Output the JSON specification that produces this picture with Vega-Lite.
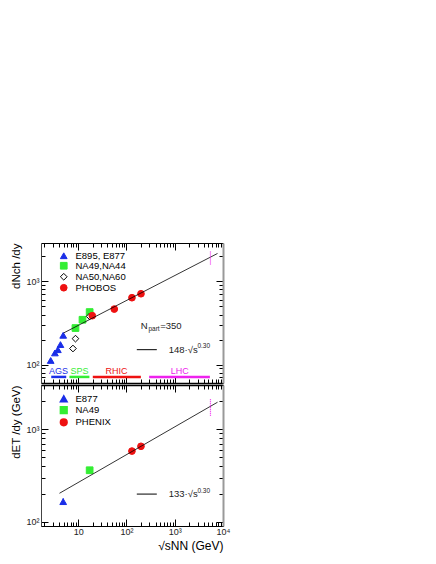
{
  "$schema": "https://vega.github.io/schema/vega-lite/v6.json",
  "padding": {"left": 10, "top": 242, "right": 5, "bottom": 5},
  "spacing": 0,
  "config": {
    "font": "Liberation Sans",
    "view": {"stroke": null},
    "axis": {"grid": false, "domainColor": "black", "tickColor": "black", "labelFont": "Liberation Sans", "labelFontSize": 9, "labelColor": "#222", "titleFont": "Liberation Sans", "titleFontSize": 12, "titleFontWeight": "normal", "titleColor": "black"},
    "legend": {"labelFont": "Liberation Sans", "labelFontSize": 9.5, "labelColor": "black"}
  },
  "datasets": {
    "top": [
      {"series": "E895, E877", "sqrts": 2.7, "val": 112},
      {"series": "E895, E877", "sqrts": 3.3, "val": 138},
      {"series": "E895, E877", "sqrts": 3.8, "val": 151},
      {"series": "E895, E877", "sqrts": 4.3, "val": 174},
      {"series": "E895, E877", "sqrts": 4.9, "val": 225},
      {"series": "NA49,NA44", "sqrts": 8.8, "val": 275},
      {"series": "NA49,NA44", "sqrts": 12.3, "val": 346},
      {"series": "NA49,NA44", "sqrts": 17.3, "val": 428},
      {"series": "NA50,NA60", "sqrts": 7.8, "val": 156},
      {"series": "NA50,NA60", "sqrts": 8.8, "val": 205},
      {"series": "NA50,NA60", "sqrts": 17.3, "val": 380},
      {"series": "PHOBOS", "sqrts": 19.6, "val": 387},
      {"series": "PHOBOS", "sqrts": 56, "val": 465},
      {"series": "PHOBOS", "sqrts": 130, "val": 637},
      {"series": "PHOBOS", "sqrts": 200, "val": 711}
    ],
    "bottom": [
      {"series": "E877", "sqrts": 4.9, "val": 165, "lo": 152, "hi": 180},
      {"series": "NA49", "sqrts": 17.3, "val": 360, "lo": 335, "hi": 385},
      {"series": "PHENIX", "sqrts": 130, "val": 580, "lo": 560, "hi": 600},
      {"series": "PHENIX", "sqrts": 200, "val": 653, "lo": 630, "hi": 676}
    ],
    "fitTop": [{"x": 5, "y": 240}, {"x": 7700, "y": 2170}],
    "fitBot": [{"x": 4.1, "y": 203}, {"x": 7700, "y": 1955}],
    "lhcTop": [{"x": 5500, "lo": 1600, "hi": 2300}],
    "lhcBot": [{"x": 5500, "lo": 1400, "hi": 2120}],
    "bands": [
      {"band": "AGS", "x1": 2.77, "x2": 5.66, "tx": 3.93, "y": 71, "ty": 83},
      {"band": "SPS", "x1": 6.6, "x2": 17.1, "tx": 10.6, "y": 71, "ty": 83},
      {"band": "RHIC", "x1": 20.1, "x2": 199, "tx": 62.6, "y": 71, "ty": 83},
      {"band": "LHC", "x1": 295, "x2": 5350, "tx": 1270, "y": 71, "ty": 83}
    ],
    "annTop": [
      {"t": "N", "x": 199, "y": 294},
      {"t": "=350", "x": 500, "y": 294},
      {"t": "148·√s", "x": 751, "y": 151}
    ],
    "annTopSmall": [
      {"t": "part", "x": 285, "y": 265},
      {"t": "0.30", "x": 2950, "y": 166}
    ],
    "segTop": [{"x": 164, "x2": 426, "y": 151}],
    "annBot": [{"t": "133·√s", "x": 751, "y": 199}],
    "annBotSmall": [{"t": "0.30", "x": 2950, "y": 213}],
    "segBot": [{"x": 164, "x2": 426, "y": 199}],
    "axisTop": [{"x": 2, "y": 100}],
    "axisBot": [{"x": 2, "y": 100}]
  },
  "resolve": {
    "scale": {"y": "independent", "fill": "independent", "stroke": "independent", "shape": "independent", "color": "independent"},
    "legend": {"fill": "independent", "stroke": "independent", "shape": "independent"}
  },
  "vconcat": [
    {
      "width": 182,
      "height": 140,
      "resolve": {"axis": {"x": "independent", "y": "independent"}},
      "layer": [
        {
          "data": {"name": "top"},
          "mark": {"type": "point", "filled": true, "size": 45, "strokeWidth": 1, "opacity": 1},
          "encoding": {
            "x": {"field": "sqrts", "type": "quantitative", "scale": {"type": "log", "domain": [1.7, 10000], "nice": false},
              "axis": {"orient": "bottom", "title": null, "labels": false, "values": [2,3,4,5,6,7,8,9,10,20,30,40,50,60,70,80,90,100,200,300,400,500,600,700,800,900,1000,2000,3000,4000,5000,6000,7000,8000,9000],
                "tickSize": {"condition": {"test": "indexof([10,100,1000,10000], datum.value) >= 0", "value": -7}, "value": -4}, "domainWidth": 1.5}},
            "y": {"field": "val", "type": "quantitative", "scale": {"type": "log", "domain": [60, 2900], "nice": false},
              "axis": {"orient": "left", "title": "dNch /dy", "titleAnchor": "end", "titlePadding": 4, "titleFontSize": 11.5, "values": [60,70,80,90,100,200,300,400,500,600,700,800,900,1000,2000],
                "labelExpr": "datum.value == 100 ? '10²' : datum.value == 1000 ? '10³' : ''", "labelPadding": 9,
                "tickSize": {"condition": {"test": "indexof([100,1000], datum.value) >= 0", "value": -7}, "value": -4}, "domainColor": "#444"}},
            "shape": {"field": "series", "type": "nominal", "scale": {"domain": ["E895, E877", "NA49,NA44", "NA50,NA60", "PHOBOS"], "range": ["triangle-up", "square", "diamond", "circle"]},
              "legend": {"title": null, "orient": "none", "legendX": 18, "legendY": 8, "symbolSize": 45, "rowPadding": -2.8, "labelOffset": 7, "symbolStrokeWidth": 1}},
            "fill": {"field": "series", "type": "nominal", "scale": {"domain": ["E895, E877", "NA49,NA44", "NA50,NA60", "PHOBOS"], "range": ["#1a2ee8", "#33ee33", "white", "#ee1111"]},
              "legend": {"title": null, "orient": "none", "legendX": 18, "legendY": 8, "symbolSize": 45, "rowPadding": -2.8, "labelOffset": 7, "symbolStrokeWidth": 1}},
            "stroke": {"field": "series", "type": "nominal", "scale": {"domain": ["E895, E877", "NA49,NA44", "NA50,NA60", "PHOBOS"], "range": ["#1a2ee8", "#33ee33", "black", "#ee1111"]},
              "legend": {"title": null, "orient": "none", "legendX": 18, "legendY": 8, "symbolSize": 45, "rowPadding": -2.8, "labelOffset": 7, "symbolStrokeWidth": 1}}
          }
        },
        {
          "data": {"name": "axisTop"},
          "mark": {"type": "point", "opacity": 0},
          "encoding": {
            "x": {"field": "x", "type": "quantitative", "axis": {"orient": "top", "title": null, "labels": false, "values": [2,3,4,5,6,7,8,9,10,20,30,40,50,60,70,80,90,100,200,300,400,500,600,700,800,900,1000,2000,3000,4000,5000,6000,7000,8000,9000],
                "tickSize": {"condition": {"test": "indexof([10,100,1000,10000], datum.value) >= 0", "value": -7}, "value": -4}}},
            "y": {"field": "y", "type": "quantitative", "axis": {"orient": "right", "title": null, "labels": false, "values": [60,70,80,90,100,200,300,400,500,600,700,800,900,1000,2000],
                "tickSize": {"condition": {"test": "indexof([100,1000], datum.value) >= 0", "value": -7}, "value": -4}, "domainColor": "#999", "domainWidth": 2}}
          }
        },
        {
          "data": {"name": "fitTop"},
          "mark": {"type": "line", "color": "black", "strokeWidth": 0.8},
          "encoding": {"x": {"field": "x", "type": "quantitative", "axis": null}, "y": {"field": "y", "type": "quantitative", "axis": null}}
        },
        {
          "data": {"name": "lhcTop"},
          "mark": {"type": "rule", "color": "#ee22ee", "strokeDash": [1, 1], "strokeWidth": 1.2},
          "encoding": {"x": {"field": "x", "type": "quantitative", "axis": null}, "y": {"field": "lo", "type": "quantitative", "axis": null}, "y2": {"field": "hi"}}
        },
        {
          "data": {"name": "bands"},
          "mark": {"type": "rule", "strokeWidth": 2.5},
          "encoding": {"x": {"field": "x1", "type": "quantitative", "axis": null}, "x2": {"field": "x2"}, "y": {"field": "y", "type": "quantitative", "axis": null},
            "color": {"field": "band", "type": "nominal", "scale": {"domain": ["AGS", "SPS", "RHIC", "LHC"], "range": ["#1a2ee8", "#33ee33", "#ee1111", "#ee22ee"]}, "legend": null}}
        },
        {
          "data": {"name": "bands"},
          "mark": {"type": "text", "fontSize": 9, "align": "center", "baseline": "middle"},
          "encoding": {"x": {"field": "tx", "type": "quantitative", "axis": null}, "y": {"field": "ty", "type": "quantitative", "axis": null}, "text": {"field": "band"},
            "color": {"field": "band", "type": "nominal", "scale": {"domain": ["AGS", "SPS", "RHIC", "LHC"], "range": ["#1a2ee8", "#33ee33", "#ee1111", "#ee22ee"]}, "legend": null}}
        },
        {
          "data": {"name": "annTop"},
          "mark": {"type": "text", "fontSize": 9.5, "align": "left", "baseline": "middle", "color": "#222"},
          "encoding": {"x": {"field": "x", "type": "quantitative", "axis": null}, "y": {"field": "y", "type": "quantitative", "axis": null}, "text": {"field": "t"}}
        },
        {
          "data": {"name": "annTopSmall"},
          "mark": {"type": "text", "fontSize": 6.5, "align": "left", "baseline": "middle", "color": "#222"},
          "encoding": {"x": {"field": "x", "type": "quantitative", "axis": null}, "y": {"field": "y", "type": "quantitative", "axis": null}, "text": {"field": "t"}}
        },
        {
          "data": {"name": "segTop"},
          "mark": {"type": "rule", "color": "black", "strokeWidth": 1},
          "encoding": {"x": {"field": "x", "type": "quantitative", "axis": null}, "x2": {"field": "x2"}, "y": {"field": "y", "type": "quantitative", "axis": null}}
        }
      ]
    },
    {
      "width": 182,
      "height": 141,
      "resolve": {"axis": {"x": "independent", "y": "independent"}},
      "layer": [
        {
          "data": {"name": "bottom"},
          "mark": {"type": "point", "filled": true, "size": 45, "strokeWidth": 1, "opacity": 1},
          "encoding": {
            "x": {"field": "sqrts", "type": "quantitative", "scale": {"type": "log", "domain": [1.7, 10000], "nice": false},
              "axis": {"orient": "bottom", "title": "√sNN (GeV)", "titleAnchor": "end", "titleFontSize": 12, "titlePadding": 4, "values": [2,3,4,5,6,7,8,9,10,20,30,40,50,60,70,80,90,100,200,300,400,500,600,700,800,900,1000,2000,3000,4000,5000,6000,7000,8000,9000,10000],
                "labelExpr": "datum.value == 10 ? '10' : datum.value == 100 ? '10²' : datum.value == 1000 ? '10³' : datum.value == 10000 ? '10⁴' : ''", "labelPadding": 8, "labelFlush": false,
                "tickSize": {"condition": {"test": "indexof([10,100,1000,10000], datum.value) >= 0", "value": -7}, "value": -4}}},
            "y": {"field": "val", "type": "quantitative", "scale": {"type": "log", "domain": [90, 3000], "nice": false},
              "axis": {"orient": "left", "title": "dET /dy (GeV)", "titleAnchor": "end", "titlePadding": 4, "titleFontSize": 11.5, "values": [90,100,200,300,400,500,600,700,800,900,1000,2000,3000],
                "labelExpr": "datum.value == 100 ? '10²' : datum.value == 1000 ? '10³' : ''", "labelPadding": 9,
                "tickSize": {"condition": {"test": "indexof([100,1000], datum.value) >= 0", "value": -7}, "value": -4}, "domainColor": "#444"}},
            "shape": {"field": "series", "type": "nominal", "scale": {"domain": ["E877", "NA49", "PHENIX"], "range": ["triangle-up", "square", "circle"]},
              "legend": {"title": null, "orient": "none", "legendX": 18, "legendY": 9, "symbolSize": 45, "rowPadding": -1.7, "labelOffset": 7}},
            "fill": {"field": "series", "type": "nominal", "scale": {"domain": ["E877", "NA49", "PHENIX"], "range": ["#1a2ee8", "#33ee33", "#ee1111"]},
              "legend": {"title": null, "orient": "none", "legendX": 18, "legendY": 9, "symbolSize": 45, "rowPadding": -1.7, "labelOffset": 7}},
            "stroke": {"field": "series", "type": "nominal", "scale": {"domain": ["E877", "NA49", "PHENIX"], "range": ["#1a2ee8", "#33ee33", "#ee1111"]},
              "legend": {"title": null, "orient": "none", "legendX": 18, "legendY": 9, "symbolSize": 45, "rowPadding": -1.7, "labelOffset": 7}}
          }
        },
        {
          "data": {"name": "bottom"},
          "mark": {"type": "rule", "strokeWidth": 1},
          "encoding": {
            "x": {"field": "sqrts", "type": "quantitative", "axis": null},
            "y": {"field": "lo", "type": "quantitative", "axis": null},
            "y2": {"field": "hi"},
            "stroke": {"field": "series", "type": "nominal",
              "legend": {"title": null, "orient": "none", "legendX": 18, "legendY": 9, "symbolSize": 45, "rowPadding": -1.7, "labelOffset": 7}}
          }
        },
        {
          "data": {"name": "axisBot"},
          "mark": {"type": "point", "opacity": 0},
          "encoding": {
            "x": {"field": "x", "type": "quantitative", "axis": {"orient": "top", "title": null, "labels": false, "values": [2,3,4,5,6,7,8,9,10,20,30,40,50,60,70,80,90,100,200,300,400,500,600,700,800,900,1000,2000,3000,4000,5000,6000,7000,8000,9000],
                "tickSize": {"condition": {"test": "indexof([10,100,1000,10000], datum.value) >= 0", "value": -7}, "value": -4}, "domainWidth": 1.5}},
            "y": {"field": "y", "type": "quantitative", "axis": {"orient": "right", "title": null, "labels": false, "values": [90,100,200,300,400,500,600,700,800,900,1000,2000,3000],
                "tickSize": {"condition": {"test": "indexof([100,1000], datum.value) >= 0", "value": -7}, "value": -4}, "domainColor": "#999", "domainWidth": 2}}
          }
        },
        {
          "data": {"name": "fitBot"},
          "mark": {"type": "line", "color": "black", "strokeWidth": 0.8},
          "encoding": {"x": {"field": "x", "type": "quantitative", "axis": null}, "y": {"field": "y", "type": "quantitative", "axis": null}}
        },
        {
          "data": {"name": "lhcBot"},
          "mark": {"type": "rule", "color": "#ee22ee", "strokeDash": [1, 1], "strokeWidth": 1.2},
          "encoding": {"x": {"field": "x", "type": "quantitative", "axis": null}, "y": {"field": "lo", "type": "quantitative", "axis": null}, "y2": {"field": "hi"}}
        },
        {
          "data": {"name": "annBot"},
          "mark": {"type": "text", "fontSize": 9.5, "align": "left", "baseline": "middle", "color": "#222"},
          "encoding": {"x": {"field": "x", "type": "quantitative", "axis": null}, "y": {"field": "y", "type": "quantitative", "axis": null}, "text": {"field": "t"}}
        },
        {
          "data": {"name": "annBotSmall"},
          "mark": {"type": "text", "fontSize": 6.5, "align": "left", "baseline": "middle", "color": "#222"},
          "encoding": {"x": {"field": "x", "type": "quantitative", "axis": null}, "y": {"field": "y", "type": "quantitative", "axis": null}, "text": {"field": "t"}}
        },
        {
          "data": {"name": "segBot"},
          "mark": {"type": "rule", "color": "black", "strokeWidth": 1},
          "encoding": {"x": {"field": "x", "type": "quantitative", "axis": null}, "x2": {"field": "x2"}, "y": {"field": "y", "type": "quantitative", "axis": null}}
        }
      ]
    }
  ]
}
